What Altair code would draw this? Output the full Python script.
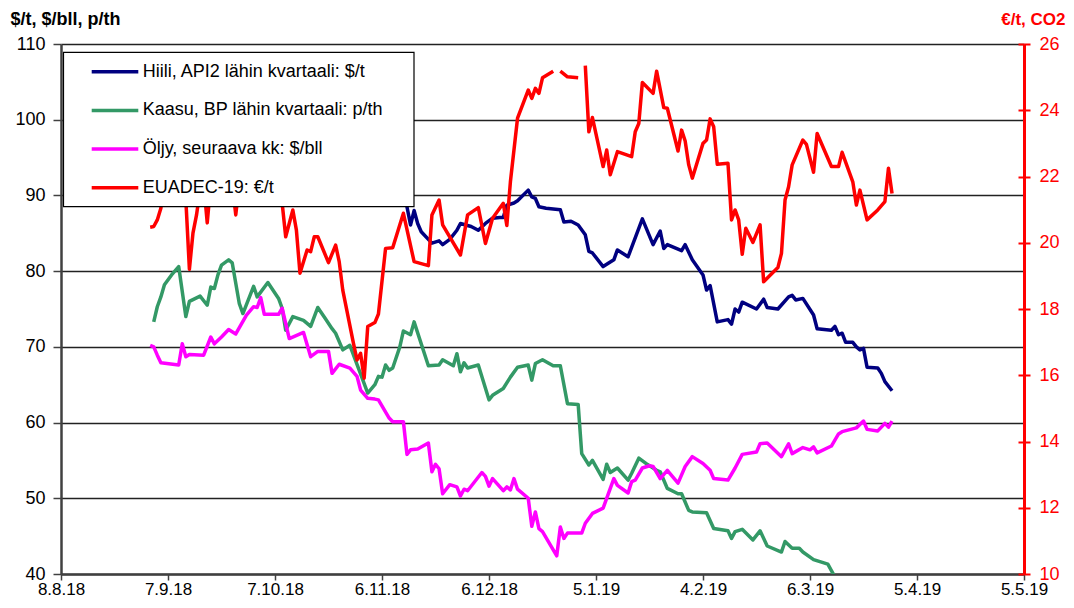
import altair as alt
import pandas as pd

FONT = "Liberation Sans"

SERIES = ["Hiili, API2 lähin kvartaali: $/t", "Kaasu, BP lähin kvartaali: p/th",
          "Öljy, seuraava kk: $/bll", "EUADEC-19:  €/t"]
COLORS = ["#000080", "#339966", "#FF00FF", "#FF0000"]
X_TICKS = ["2018-08-08", "2018-09-07", "2018-10-07", "2018-11-06", "2018-12-06",
           "2019-01-05", "2019-02-04", "2019-03-06", "2019-04-05", "2019-05-05"]
LEFT_TICKS = [40, 50, 60, 70, 80, 90, 100, 110]
RIGHT_TICKS = [10, 12, 14, 16, 18, 20, 22, 24, 26]
LEFT_TITLE = "$/t, $/bll, p/th"
RIGHT_TITLE = "€/t, CO2"

coal = [
    ("2018-09-02", 97.5), ("2018-09-10", 98.5), ("2018-09-17", 99.5), ("2018-09-24", 100.5),
    ("2018-10-01", 101.0), ("2018-10-08", 99.5), ("2018-10-15", 98.0), ("2018-10-22", 96.0),
    ("2018-10-29", 93.5), ("2018-11-05", 91.5), ("2018-11-12", 89.5), ("2018-11-13", 88.5),
    ("2018-11-14", 86.1), ("2018-11-15", 88.0), ("2018-11-16", 86.3), ("2018-11-17", 85.2),
    ("2018-11-20", 83.7), ("2018-11-22", 84.0), ("2018-11-23", 83.5), ("2018-11-25", 84.2),
    ("2018-11-27", 85.4), ("2018-11-28", 86.3), ("2018-12-01", 85.9), ("2018-12-03", 85.4),
    ("2018-12-05", 86.3), ("2018-12-07", 87.0), ("2018-12-09", 87.1), ("2018-12-10", 87.1),
    ("2018-12-11", 88.7), ("2018-12-13", 89.0), ("2018-12-14", 89.3), ("2018-12-17", 90.7),
    ("2018-12-18", 89.8), ("2018-12-19", 89.6), ("2018-12-20", 88.5), ("2018-12-22", 88.3),
    ("2018-12-26", 88.1), ("2018-12-27", 86.5), ("2018-12-29", 86.6), ("2018-12-31", 86.1),
    ("2019-01-02", 84.8), ("2019-01-03", 82.6), ("2019-01-04", 82.4), ("2019-01-07", 80.6),
    ("2019-01-10", 81.5), ("2019-01-11", 82.8), ("2019-01-14", 81.9), ("2019-01-18", 86.9),
    ("2019-01-21", 83.5), ("2019-01-23", 85.3), ("2019-01-24", 83.0), ("2019-01-25", 83.5),
    ("2019-01-29", 82.7), ("2019-01-30", 83.5), ("2019-02-01", 81.5), ("2019-02-04", 79.5),
    ("2019-02-05", 77.5), ("2019-02-06", 78.1), ("2019-02-08", 73.3), ("2019-02-11", 73.6),
    ("2019-02-12", 73.0), ("2019-02-13", 75.0), ("2019-02-14", 74.6), ("2019-02-15", 75.9),
    ("2019-02-19", 75.0), ("2019-02-21", 76.3), ("2019-02-22", 75.2), ("2019-02-25", 75.0),
    ("2019-02-28", 76.6), ("2019-03-01", 76.8), ("2019-03-02", 76.2), ("2019-03-04", 76.4),
    ("2019-03-07", 74.2), ("2019-03-08", 72.4), ("2019-03-12", 72.2), ("2019-03-13", 72.7),
    ("2019-03-14", 71.6), ("2019-03-15", 71.8), ("2019-03-16", 70.6), ("2019-03-18", 70.6),
    ("2019-03-19", 70.0), ("2019-03-20", 69.6), ("2019-03-21", 69.8), ("2019-03-22", 67.3),
    ("2019-03-25", 67.2), ("2019-03-26", 66.5), ("2019-03-27", 65.4), ("2019-03-29", 64.2),
]

gas = [
    ("2018-09-03", 73.3), ("2018-09-04", 75.3), ("2018-09-05", 76.6), ("2018-09-06", 78.2),
    ("2018-09-08", 79.5), ("2018-09-10", 80.6), ("2018-09-12", 74.0), ("2018-09-13", 76.0),
    ("2018-09-16", 76.7), ("2018-09-18", 75.5), ("2018-09-19", 77.9), ("2018-09-20", 77.7),
    ("2018-09-21", 79.5), ("2018-09-22", 80.8), ("2018-09-24", 81.5), ("2018-09-25", 81.1),
    ("2018-09-27", 75.7), ("2018-09-28", 74.4), ("2018-10-01", 78.0), ("2018-10-02", 76.6),
    ("2018-10-05", 78.5), ("2018-10-08", 76.4), ("2018-10-09", 75.1), ("2018-10-10", 72.2),
    ("2018-10-12", 74.0), ("2018-10-15", 73.5), ("2018-10-17", 72.7), ("2018-10-19", 75.2),
    ("2018-10-21", 73.8), ("2018-10-23", 72.4), ("2018-10-24", 71.8), ("2018-10-26", 69.6),
    ("2018-10-28", 70.2), ("2018-11-02", 63.9), ("2018-11-04", 65.0), ("2018-11-05", 66.1),
    ("2018-11-06", 66.0), ("2018-11-07", 67.6), ("2018-11-08", 66.9), ("2018-11-09", 67.2),
    ("2018-11-11", 70.0), ("2018-11-12", 72.1), ("2018-11-14", 71.6), ("2018-11-15", 73.3),
    ("2018-11-19", 67.5), ("2018-11-22", 67.6), ("2018-11-23", 68.3), ("2018-11-26", 67.5),
    ("2018-11-27", 69.1), ("2018-11-28", 66.7), ("2018-11-29", 67.9), ("2018-11-30", 67.2),
    ("2018-12-03", 67.6), ("2018-12-06", 63.0), ("2018-12-07", 63.6), ("2018-12-10", 64.5),
    ("2018-12-12", 66.0), ("2018-12-14", 67.3), ("2018-12-17", 67.6), ("2018-12-18", 65.6),
    ("2018-12-19", 67.8), ("2018-12-21", 68.3), ("2018-12-24", 67.5), ("2018-12-26", 67.5),
    ("2018-12-28", 62.5), ("2018-12-31", 62.4), ("2019-01-01", 55.9), ("2019-01-03", 54.4),
    ("2019-01-04", 55.0), ("2019-01-07", 52.5), ("2019-01-08", 54.5), ("2019-01-09", 53.4),
    ("2019-01-11", 54.0), ("2019-01-14", 52.4), ("2019-01-15", 53.3), ("2019-01-17", 55.3),
    ("2019-01-19", 54.6), ("2019-01-22", 53.7), ("2019-01-23", 53.5), ("2019-01-25", 51.3),
    ("2019-01-28", 50.6), ("2019-01-29", 50.6), ("2019-01-31", 48.4), ("2019-02-01", 48.2),
    ("2019-02-05", 48.1), ("2019-02-07", 46.0), ("2019-02-11", 45.7), ("2019-02-12", 44.7),
    ("2019-02-13", 45.6), ("2019-02-15", 45.9), ("2019-02-18", 44.5), ("2019-02-20", 45.7),
    ("2019-02-22", 43.7), ("2019-02-26", 42.9), ("2019-02-27", 44.3), ("2019-03-01", 43.4),
    ("2019-03-03", 43.4), ("2019-03-04", 42.9), ("2019-03-07", 41.9), ("2019-03-11", 41.3),
    ("2019-03-13", 39.6),
]

oil = [
    ("2018-09-02", 70.2), ("2018-09-03", 70.0), ("2018-09-04", 68.9), ("2018-09-05", 67.9),
    ("2018-09-10", 67.6), ("2018-09-11", 70.4), ("2018-09-12", 68.7), ("2018-09-13", 69.0),
    ("2018-09-17", 68.9), ("2018-09-19", 71.3), ("2018-09-20", 70.4), ("2018-09-22", 71.3),
    ("2018-09-24", 72.3), ("2018-09-26", 71.7), ("2018-09-29", 74.2), ("2018-10-01", 75.3),
    ("2018-10-02", 75.2), ("2018-10-03", 76.5), ("2018-10-04", 74.3), ("2018-10-08", 74.3),
    ("2018-10-09", 75.1), ("2018-10-11", 71.1), ("2018-10-15", 71.9), ("2018-10-17", 68.7),
    ("2018-10-19", 69.4), ("2018-10-22", 69.4), ("2018-10-23", 66.5), ("2018-10-25", 67.7),
    ("2018-10-28", 67.2), ("2018-10-30", 66.1), ("2018-10-31", 64.3), ("2018-11-02", 63.2),
    ("2018-11-04", 63.1), ("2018-11-05", 63.0), ("2018-11-08", 60.6), ("2018-11-09", 60.1),
    ("2018-11-12", 60.1), ("2018-11-13", 55.8), ("2018-11-14", 56.4), ("2018-11-16", 56.5),
    ("2018-11-19", 57.3), ("2018-11-20", 53.5), ("2018-11-21", 54.5), ("2018-11-22", 53.9),
    ("2018-11-23", 50.6), ("2018-11-25", 51.8), ("2018-11-27", 51.5), ("2018-11-28", 50.3),
    ("2018-11-29", 51.2), ("2018-11-30", 51.0), ("2018-12-04", 53.4), ("2018-12-05", 52.9),
    ("2018-12-06", 51.6), ("2018-12-07", 52.6), ("2018-12-10", 51.0), ("2018-12-11", 51.5),
    ("2018-12-12", 51.1), ("2018-12-13", 52.6), ("2018-12-14", 51.2), ("2018-12-17", 50.0),
    ("2018-12-18", 46.3), ("2018-12-19", 48.2), ("2018-12-20", 46.0), ("2018-12-21", 45.6),
    ("2018-12-25", 42.4), ("2018-12-26", 46.2), ("2018-12-27", 44.7), ("2018-12-28", 45.4),
    ("2019-01-01", 45.4), ("2019-01-02", 46.7), ("2019-01-04", 48.0), ("2019-01-07", 48.7),
    ("2019-01-10", 52.6), ("2019-01-11", 51.7), ("2019-01-14", 50.7), ("2019-01-15", 52.2),
    ("2019-01-16", 52.4), ("2019-01-18", 54.0), ("2019-01-20", 54.3), ("2019-01-21", 54.2),
    ("2019-01-23", 52.6), ("2019-01-25", 53.7), ("2019-01-28", 52.0), ("2019-01-30", 54.2),
    ("2019-02-01", 55.5), ("2019-02-04", 54.6), ("2019-02-06", 53.7), ("2019-02-07", 52.6),
    ("2019-02-11", 52.4), ("2019-02-13", 54.0), ("2019-02-15", 55.8), ("2019-02-19", 56.1),
    ("2019-02-20", 57.2), ("2019-02-22", 57.3), ("2019-02-26", 55.5), ("2019-02-28", 57.2),
    ("2019-03-01", 55.9), ("2019-03-04", 56.7), ("2019-03-06", 56.4), ("2019-03-07", 56.8),
    ("2019-03-08", 56.0), ("2019-03-12", 56.9), ("2019-03-14", 58.5), ("2019-03-15", 58.8),
    ("2019-03-19", 59.3), ("2019-03-21", 60.2), ("2019-03-22", 59.1), ("2019-03-25", 58.9),
    ("2019-03-27", 59.9), ("2019-03-28", 59.4), ("2019-03-29", 60.2),
]

# None marks a missing day (the line breaks there)
eua = [
    ("2018-09-02", 20.47), ("2018-09-03", 20.49), ("2018-09-04", 20.69), ("2018-09-05", 21.04),
    ("2018-09-06", 21.8), ("2018-09-07", 22.2), ("2018-09-10", 22.0), ("2018-09-11", 22.3),
    ("2018-09-12", 21.3), ("2018-09-13", 19.2), ("2018-09-14", 20.29), ("2018-09-15", 20.84),
    ("2018-09-16", 21.6), ("2018-09-17", 21.8), ("2018-09-18", 20.6), ("2018-09-19", 21.8),
    ("2018-09-20", 22.3), ("2018-09-21", 22.0), ("2018-09-24", 22.5), ("2018-09-25", 21.8),
    ("2018-09-26", 20.84), ("2018-09-27", 21.8), ("2018-10-01", 22.8), ("2018-10-03", 22.2),
    ("2018-10-05", 22.6), ("2018-10-08", 21.8), ("2018-10-09", 21.2), ("2018-10-10", 20.18),
    ("2018-10-12", 20.99), ("2018-10-13", 20.38), ("2018-10-14", 19.08), ("2018-10-16", 19.78),
    ("2018-10-17", 19.73), ("2018-10-18", 20.18), ("2018-10-19", 20.18), ("2018-10-22", 19.40),
    ("2018-10-24", 19.93), ("2018-10-25", 19.43), ("2018-10-26", 18.57), ("2018-10-29", 16.96),
    ("2018-10-30", 16.46), ("2018-10-31", 16.66), ("2018-11-01", 15.91), ("2018-11-02", 17.47),
    ("2018-11-04", 17.59), ("2018-11-05", 17.85), ("2018-11-07", 19.83), ("2018-11-09", 19.85),
    ("2018-11-12", 20.89), ("2018-11-15", 19.43), ("2018-11-19", 19.31), ("2018-11-20", 20.84),
    ("2018-11-22", 21.29), ("2018-11-23", 20.54), ("2018-11-28", 19.63), ("2018-11-30", 20.84),
    ("2018-12-03", 21.06), ("2018-12-05", 19.98), ("2018-12-07", 20.74), ("2018-12-10", 21.19),
    ("2018-12-11", 20.52), ("2018-12-12", 21.84), ("2018-12-14", 23.76), ("2018-12-17", 24.61),
    ("2018-12-18", 24.36), ("2018-12-19", 24.66), ("2018-12-20", 24.51), ("2018-12-21", 24.98),
    ("2018-12-24", 25.18), ("2018-12-25", None), ("2018-12-26", 25.18), ("2018-12-28", 25.01),
    ("2018-12-31", 24.98), ("2019-01-01", None), ("2019-01-02", 25.35), ("2019-01-03", 23.35),
    ("2019-01-04", 23.78), ("2019-01-07", 22.30), ("2019-01-08", 22.80), ("2019-01-09", 22.05),
    ("2019-01-11", 22.75), ("2019-01-15", 22.60), ("2019-01-16", 23.35), ("2019-01-17", 23.60),
    ("2019-01-18", 24.84), ("2019-01-21", 24.51), ("2019-01-22", 25.18), ("2019-01-24", 24.08),
    ("2019-01-25", 24.06), ("2019-01-28", 22.77), ("2019-01-29", 23.40), ("2019-01-30", 23.07),
    ("2019-01-31", 22.35), ("2019-02-01", 21.95), ("2019-02-04", 23.00), ("2019-02-05", 23.10),
    ("2019-02-06", 23.74), ("2019-02-07", 23.50), ("2019-02-08", 22.37), ("2019-02-11", 22.40),
    ("2019-02-12", 20.69), ("2019-02-13", 20.99), ("2019-02-14", 20.69), ("2019-02-15", 19.65),
    ("2019-02-16", 20.44), ("2019-02-18", 20.01), ("2019-02-20", 20.54), ("2019-02-21", 18.82),
    ("2019-02-25", 19.25), ("2019-02-26", 19.68), ("2019-02-27", 21.29), ("2019-02-28", 21.69),
    ("2019-03-01", 22.35), ("2019-03-04", 23.10), ("2019-03-05", 22.97), ("2019-03-07", 22.13),
    ("2019-03-08", 23.30), ("2019-03-12", 22.30), ("2019-03-14", 22.30), ("2019-03-15", 22.73),
    ("2019-03-18", 21.84), ("2019-03-19", 21.14), ("2019-03-20", 21.59), ("2019-03-22", 20.69),
    ("2019-03-25", 20.99), ("2019-03-27", 21.24), ("2019-03-28", 22.25), ("2019-03-29", 21.49),
]

# ---- tables built from the arrays ----
rows = []
for name, series in zip(SERIES[:3], [coal, gas, oil]):
    for d, v in series:
        rows.append({"date": d, "value": v, "series": name})
left_df = pd.DataFrame(rows)

red_df = pd.DataFrame(eua, columns=["date", "value"])
red_df["seg"] = red_df["value"].isna().cumsum()
red_df = red_df.dropna()

RED = COLORS[3]


def dt(s):
    y, m, d = (int(p) for p in s.split("-"))
    return alt.DateTime(year=y, month=m, date=d, utc=True)


x_enc = alt.X(
    "date:T",
    scale=alt.Scale(type="utc", domain=[dt(X_TICKS[0]), dt(X_TICKS[-1])]),
    axis=alt.Axis(values=[dt(s) for s in X_TICKS], format="%-d.%-m.%y", title=None,
                  grid=False, labelFlush=False, labelOverlap=False, labelFontSize=17,
                  domainColor="#404040", domainWidth=2.5, tickColor="#404040",
                  tickWidth=1.5, tickSize=6, labelPadding=1),
)

right_scale = alt.Scale(domain=[10, 26], nice=False, zero=False)

left = alt.Chart(left_df).mark_line(strokeWidth=3.5, strokeJoin="round", clip=True).encode(
    x=x_enc,
    y=alt.Y("value:Q",
            scale=alt.Scale(domain=[40, 110], nice=False, zero=False),
            axis=alt.Axis(orient="left", values=LEFT_TICKS, title=LEFT_TITLE,
                          titleAngle=0, titleAlign="left", titleBaseline="alphabetic",
                          titleX=-51, titleY=-20, titleFontWeight="bold", titleFontSize=18,
                          titleColor="black", grid=True, gridColor="#222222", gridWidth=1.3,
                          domainColor="#404040", domainWidth=2.5, tickColor="#404040",
                          tickWidth=1.5, tickSize=8, labelPadding=8)),
    color=alt.Color("series:N", scale=alt.Scale(domain=SERIES[:3], range=COLORS[:3]),
                    legend=None),
)

right = alt.Chart(red_df).mark_line(color=RED, strokeWidth=3.5, strokeJoin="round").encode(
    x=x_enc,
    y=alt.Y("value:Q", scale=right_scale,
            axis=alt.Axis(orient="right", values=RIGHT_TICKS, title=RIGHT_TITLE,
                          titleAngle=0, titleAlign="right", titleBaseline="alphabetic",
                          titleX=41, titleY=-20, titleFontWeight="bold", titleFontSize=17,
                          titleColor=RED, grid=False, domainColor=RED,
                          domainWidth=3, tickColor=RED, tickWidth=2, tickSize=6,
                          labelColor=RED, labelPadding=9)),
    detail="seg:N",
)

# inner half of the crossing ticks on the red axis
right_inner = alt.Chart(red_df).mark_line(opacity=0).encode(
    x=x_enc,
    y=alt.Y("value:Q", scale=right_scale,
            axis=alt.Axis(orient="right", values=RIGHT_TICKS, title=None, labels=False,
                          domain=False, grid=False, tickColor=RED, tickWidth=2,
                          tickSize=6, offset=-6)),
    detail="seg:N",
)

one = pd.DataFrame({"k": [0]})
box = alt.Chart(one).mark_rect(fill="white", stroke="black", strokeWidth=1.2).encode(
    x=alt.value(2.5), x2=alt.value(353), y=alt.value(8.3), y2=alt.value(162.7)
)
legend_layers = [box]
for i, (name, col) in enumerate(zip(SERIES, COLORS)):
    yy = 27.7 + 38.7 * i
    legend_layers.append(
        alt.Chart(one).mark_rule(color=col, strokeWidth=3.5).encode(
            x=alt.value(30.7), x2=alt.value(77.3), y=alt.value(yy))
    )
    legend_layers.append(
        alt.Chart(one).mark_text(text=name, align="left", baseline="middle",
                                 fontSize=18, font=FONT, color="black").encode(
            x=alt.value(81.7), y=alt.value(yy))
    )

chart = (
    alt.layer(left, right, right_inner, *legend_layers)
    .resolve_scale(y="independent")
    .properties(width=963, height=530,
                autosize=alt.AutoSizeParams(type="none"),
                padding={"left": 53, "top": 36, "right": 42, "bottom": 26})
    .configure(font=FONT)
    .configure_view(strokeWidth=0)
    .configure_axis(labelFont=FONT, labelFontSize=18, labelColor="black", titleFont=FONT)
)

chart.save("out.html", embed_options={"renderer": "svg", "actions": False})
